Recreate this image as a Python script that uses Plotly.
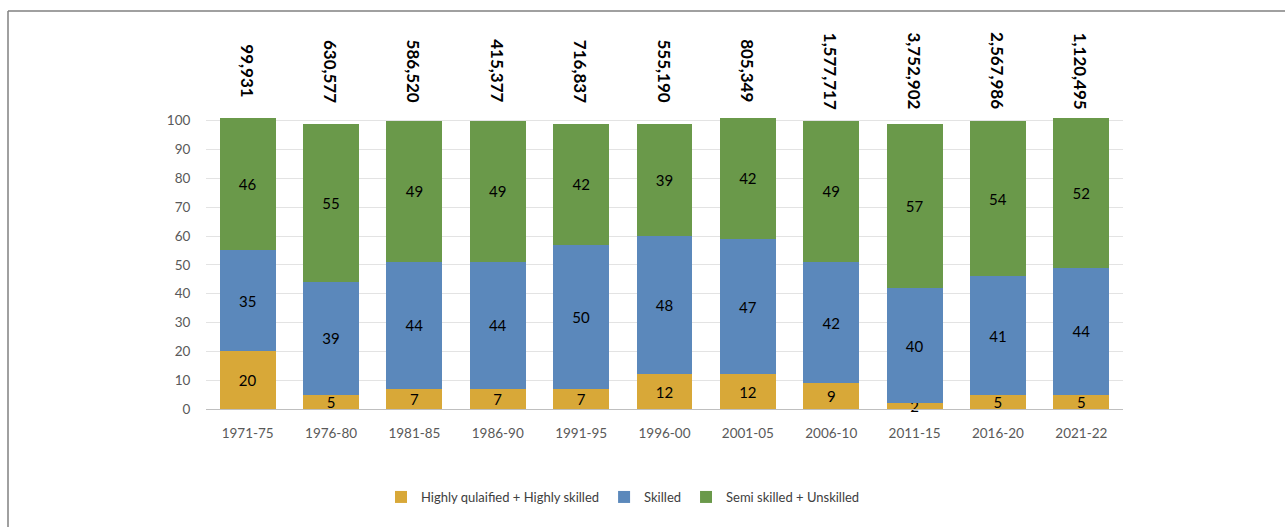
import plotly.graph_objects as go

periods = ["1971-75", "1976-80", "1981-85", "1986-90", "1991-95", "1996-00",
           "2001-05", "2006-10", "2011-15", "2016-20", "2021-22"]
highly = [20, 5, 7, 7, 7, 12, 12, 9, 2, 5, 5]
skilled = [35, 39, 44, 44, 50, 48, 47, 42, 40, 41, 44]
semi = [46, 55, 49, 49, 42, 39, 42, 49, 57, 54, 52]
totals = ["99,931", "630,577", "586,520", "415,377", "716,837", "555,190",
          "805,349", "1,577,717", "3,752,902", "2,567,986", "1,120,495"]
series_names = ["Highly qulaified + Highly skilled", "Skilled", "Semi skilled + Unskilled"]
colors = ["#D8A838", "#5B88BB", "#6A994A"]

FONT = "Lato"
W, H = 1285, 527
ML, MR, MT, MB = 206, 162, 115, 118
pw = W - ML - MR
ph = H - MT - MB

fig = go.Figure()
for name, vals, col in zip(series_names, [highly, skilled, semi], colors):
    fig.add_trace(go.Bar(
        x=periods, y=vals, name=name, marker=dict(color=col, line=dict(width=0)),
        text=[str(v) for v in vals], textposition="inside", insidetextanchor="middle",
        textangle=0,
        textfont=dict(family=FONT, size=15, color="#000000"),
        constraintext="none", cliponaxis=False,
    ))

for p, t in zip(periods, totals):
    fig.add_annotation(x=p, xref="x", y=(H - 71 - MB) / ph, yref="paper",
                       text=t, textangle=90, showarrow=False,
                       xanchor="center", yanchor="middle",
                       font=dict(family=FONT, size=17, color="#000000", weight="bold"))

def px_x(px):
    return (px - ML) / pw

def px_y(py):
    return (H - MB - py) / ph

line = dict(color="#808080", width=1.5)
fig.add_shape(type="line", xref="paper", yref="paper",
              x0=px_x(8), y0=px_y(11), x1=px_x(1290), y1=px_y(11), line=line)
fig.add_shape(type="line", xref="paper", yref="paper",
              x0=px_x(8), y0=px_y(11), x1=px_x(8), y1=px_y(535), line=line)

fig.update_layout(
    width=W, height=H,
    margin=dict(l=ML, r=MR, t=MT, b=MB, pad=0),
    barmode="stack", bargap=0.33,
    plot_bgcolor="white", paper_bgcolor="white",
    uniformtext=dict(minsize=15, mode="show"),
    font=dict(family=FONT, color="#595959"),
    showlegend=True,
    legend=dict(orientation="h", x=px_x(623), xanchor="center", y=px_y(497), yanchor="middle",
                font=dict(family=FONT, size=13, color="#404040"), traceorder="normal",
                itemwidth=30, bgcolor="rgba(0,0,0,0)"),
    xaxis=dict(type="category", showgrid=False, showline=True, linecolor="#BFBFBF", linewidth=1,
               ticks="outside", ticklen=12, tickcolor="rgba(0,0,0,0)",
               tickfont=dict(family=FONT, size=13.5, color="#595959")),
    yaxis=dict(range=[0, 102], tickvals=list(range(0, 101, 10)), showgrid=True,
               gridcolor="#E3E3E3", gridwidth=1, zeroline=False, showline=False,
               ticks="outside", ticklen=12, tickcolor="rgba(0,0,0,0)",
               tickfont=dict(family=FONT, size=13.5, color="#595959")),
)

fig.write_html("out.html")
